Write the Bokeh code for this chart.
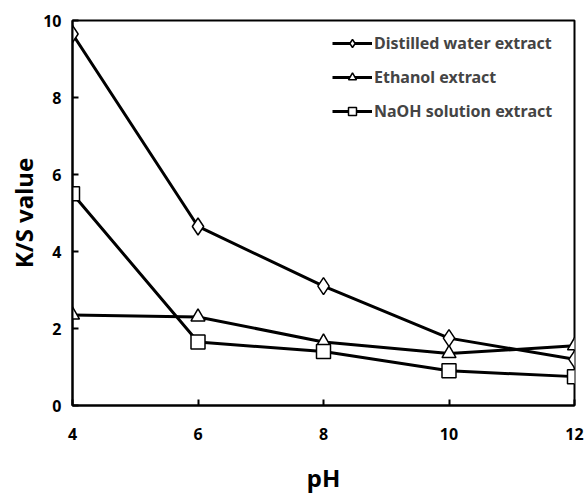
from bokeh.plotting import figure
from bokeh.models import Range1d, FixedTicker, Legend, LegendItem
from bokeh.embed import file_html
from bokeh.resources import INLINE

ph = [4, 6, 8, 10, 12]
distilled = [9.65, 4.65, 3.1, 1.75, 1.2]
ethanol = [2.35, 2.3, 1.65, 1.35, 1.55]
naoh = [5.5, 1.65, 1.4, 0.9, 0.75]
x_ticks = [4, 6, 8, 10, 12]
y_ticks = [0, 2, 4, 6, 8, 10]
labels = ["Distilled water extract", "Ethanol extract", "NaOH solution extract"]

FONT = "Noto Sans"

p = figure(width=586, height=496, output_backend="svg", toolbar_location=None,
           x_range=Range1d(4, 12), y_range=Range1d(0, 10),
           min_border_left=72, min_border_right=12, min_border_top=20, min_border_bottom=90)
p.grid.visible = False
p.outline_line_color = "black"
p.outline_line_width = 2
p.background_fill_color = "white"

for ax in (p.xaxis[0], p.yaxis[0]):
    ax.axis_line_width = 2
    ax.axis_line_color = "black"
    ax.major_tick_in = 6
    ax.major_tick_out = 0
    ax.major_tick_line_width = 2
    ax.minor_tick_line_color = None
    ax.major_label_text_font = FONT
    ax.major_label_text_font_style = "bold"
    ax.major_label_text_font_size = "16px"
    ax.major_label_text_color = "black"
    ax.axis_label_text_font = FONT
    ax.axis_label_text_font_style = "bold"
    ax.axis_label_text_font_size = "24px"
    ax.axis_label_text_color = "black"
    ax.axis_label_text_line_height = 1.0

p.xaxis.ticker = FixedTicker(ticks=x_ticks)
p.yaxis.ticker = FixedTicker(ticks=y_ticks)
p.xaxis.axis_label = "pH"
p.yaxis.axis_label = "K/S value"
p.xaxis.major_label_standoff = 22
p.xaxis.axis_label_standoff = 18
p.yaxis.major_label_standoff = 11
p.yaxis.axis_label_standoff = 0

items = []
for ys, marker, size, lab in [(distilled, "diamond", 17, labels[0]),
                              (ethanol, "triangle", 14, labels[1]),
                              (naoh, "square", 14, labels[2])]:
    l = p.line(ph, ys, line_color="black", line_width=3)
    m = p.scatter(ph, ys, marker=marker, size=size, fill_color="white",
                  line_color="black", line_width=1.5)
    items.append(LegendItem(label=lab, renderers=[l, m]))

legend = Legend(items=items, location="top_right", margin=12, padding=26,
                glyph_width=40, glyph_height=20, spacing=12, label_standoff=2,
                label_width=188, label_text_font=FONT, label_text_font_style="bold",
                label_text_font_size="16px", border_line_color=None,
                background_fill_alpha=0)
p.add_layout(legend)

open("out.html", "w").write(file_html(p, INLINE))
